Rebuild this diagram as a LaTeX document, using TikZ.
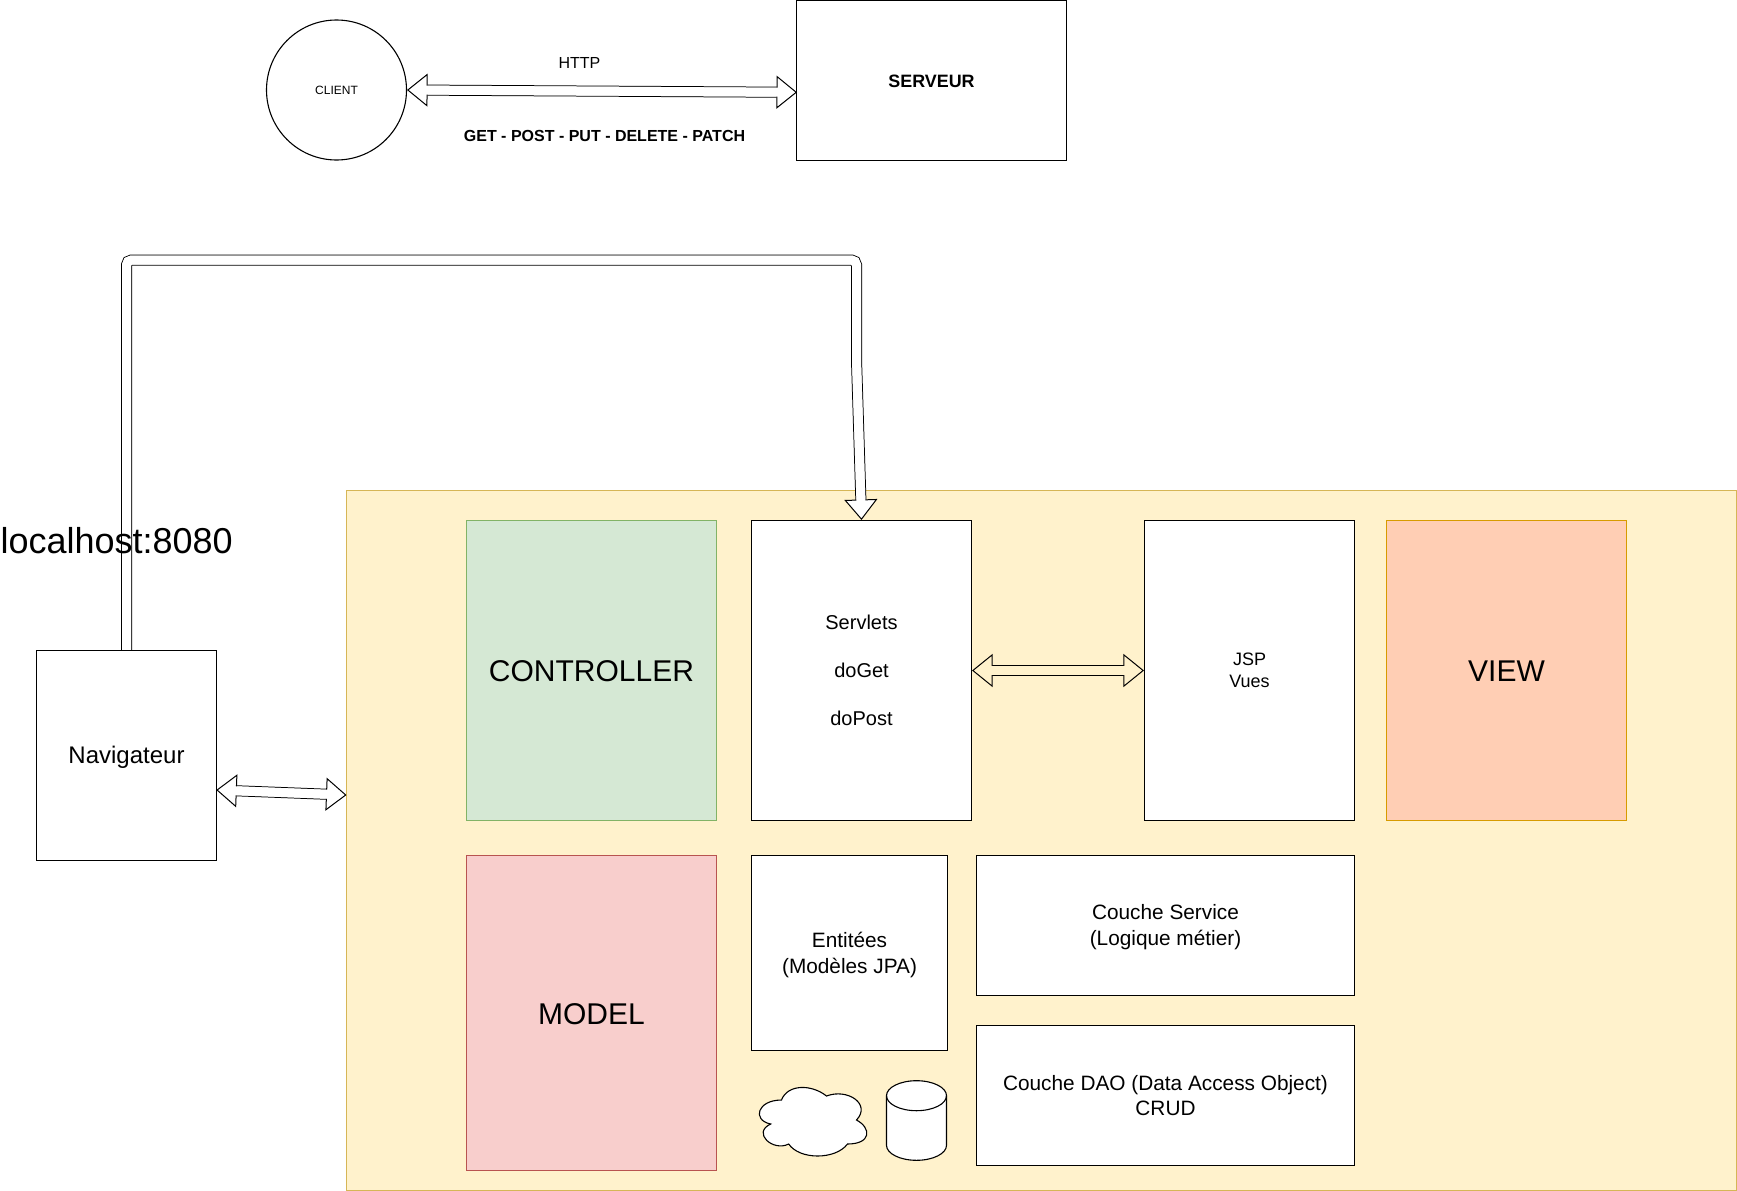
\documentclass[tikz,border=0pt]{standalone}
\usepackage{fontspec}
\setmainfont{Liberation Sans}
\usetikzlibrary{arrows.meta,positioning}
\definecolor{mvcfill}{HTML}{FFF2CC}
\definecolor{mvcline}{HTML}{D6B656}
\definecolor{ctrlfill}{HTML}{D5E8D4}
\definecolor{ctrlline}{HTML}{82B366}
\definecolor{viewfill}{HTML}{FFCEB4}
\definecolor{viewline}{HTML}{D79B00}
\definecolor{modelfill}{HTML}{F8CECC}
\definecolor{modelline}{HTML}{B85450}
\newcommand{\pxfont}[1]{\fontsize{#1}{#1}\selectfont}

\begin{document}
\begin{tikzpicture}[x=1pt, y=-1pt, line width=1.1pt,
    whitebox/.style={draw, fill=white, inner sep=0pt, align=center},
    bigbox/.style={draw=#1line, fill=#1fill, inner sep=0pt, font=\pxfont{30}, text height=22.2pt, text depth=0pt},
    flexarrow/.style={double=#1, double distance=9pt, line width=1pt,
      {Triangle[length=20.5pt, width=33pt, fill=#1, line width=1pt]}-{Triangle[length=20.5pt, width=33pt, fill=#1, line width=1pt]},
      postaction={draw=#1, line width=9pt, double=none, -, shorten <=18.5pt, shorten >=18.5pt}},
    flexarrowend/.style={double=#1, double distance=9pt, line width=1pt,
      -{Triangle[length=20.5pt, width=33pt, fill=#1, line width=1pt]},
      postaction={draw=#1, line width=9pt, double=none, -, shorten >=18.5pt}}]
    \useasboundingbox (0,0) rectangle (1737,1191);

    % client / serveur
    \node[draw, circle, fill=white, minimum size=140pt, inner sep=0pt, font=\pxfont{12}] (client) at (336.5,90) {CLIENT};
    \node[whitebox, minimum width=270pt, minimum height=160pt, font=\pxfont{17.9}\bfseries, text height=14.8pt, text depth=0pt] (serveur) at (931.5,80.5) {SERVEUR};
    \coordinate (serveurport) at (797,92.3);
    \draw[flexarrow=white] (client.east) -- (serveurport);
    \node[font=\pxfont{16}] (http) at (579.5,62.5) {HTTP};
    \node[font=\pxfont{16}\bfseries] (verbs) at (604.5,135.7) {GET - POST - PUT - DELETE - PATCH};

    % conteneur
    \node[draw=mvcline, fill=mvcfill, minimum width=1390pt, minimum height=700pt, inner sep=0pt] (mvc) at (1041.5,840.5) {};

    % colonne du haut
    \node[bigbox=ctrl, minimum width=250pt, minimum height=300pt] (controller) at (591.5,670.5) {CONTROLLER};
    \node[whitebox, minimum width=220pt, minimum height=300pt, font=\pxfont{20}] (servlets) at (861.5,670.5) {Servlets\\[28pt]doGet\\[28pt]doPost};
    \node[whitebox, minimum width=210pt, minimum height=300pt, font=\pxfont{18}] (jsp) at (1249.5,670.5) {JSP\\[4pt]Vues};
    \node[bigbox=view, minimum width=240pt, minimum height=300pt] (viewbox) at (1506.5,670.5) {VIEW};

    % colonne du bas
    \node[bigbox=model, minimum width=250pt, minimum height=315pt] (modelbox) at (591.5,1013) {MODEL};
    \node[whitebox, minimum width=196pt, minimum height=195pt, font=\pxfont{20.8}, text depth=0pt] (entites) at (849.5,953) {Entitées\\[5pt](Modèles JPA)};
    \node[whitebox, minimum width=378pt, minimum height=140pt, font=\pxfont{20.8}, text depth=1.5pt] (service) at (1165.5,925.5) {Couche Service\\[5pt](Logique métier)};
    \node[whitebox, minimum width=378pt, minimum height=140pt, font=\pxfont{20.8}] (dao) at (1165.5,1095.5) {Couche DAO (Data Access Object)\\[5pt]CRUD};

    % nuage et base
    \begin{scope}[shift={(751.5,1080)}]
      \draw[fill=white] (30,20) .. controls (6,20) and (0,40) .. (19.2,44)
        .. controls (0,52.8) and (21.6,72) .. (37.2,64)
        .. controls (48,80) and (84,80) .. (96,64)
        .. controls (120,64) and (120,48) .. (105,40)
        .. controls (120,24) and (96,8) .. (75,16)
        .. controls (60,4) and (36,4) .. (30,20) -- cycle;
    \end{scope}
    \draw[fill=white] (886.5,1095.7) arc[start angle=180, end angle=360, x radius=30, y radius=15]
      -- (946.5,1145.3) arc[start angle=0, end angle=180, x radius=30, y radius=15] -- cycle;
    \draw (886.5,1095.7) arc[start angle=180, end angle=0, x radius=30, y radius=15];

    % navigateur
    \node[whitebox, minimum width=180pt, minimum height=210pt, font=\pxfont{24}, text depth=2pt] (nav) at (126.5,755.5) {Navigateur};
    \coordinate (navport) at (216.3,790);
    \coordinate (mvcport) at (346.5,795);
    \draw[flexarrow=white] (navport) -- (mvcport);
    \draw[flexarrow=mvcfill] (servlets.east) -- (jsp.west);

    \coordinate (bendleft) at (126.5,260);
    \coordinate (bendright) at (856.5,260);
    \coordinate (bendlow) at (856.5,360);
    \draw[flexarrowend=white, rounded corners=5pt] (nav.north) -- (bendleft) -- (bendright) -- (bendlow) -- (servlets.north);
    \node[anchor=west, inner sep=0pt, font=\pxfont{36}] (localhost) at (0,540.5) {localhost:8080};
\end{tikzpicture}
\end{document}
